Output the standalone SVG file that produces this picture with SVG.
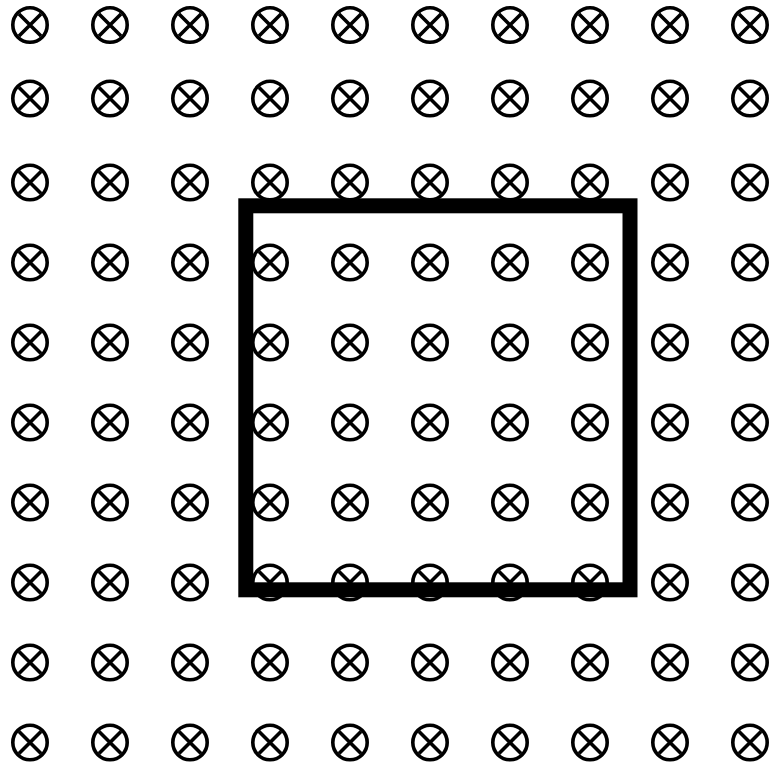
<svg xmlns="http://www.w3.org/2000/svg" xmlns:xlink="http://www.w3.org/1999/xlink" width="771" height="765" viewBox="0 0 771 765">
<defs>
<style>
.sym{fill:none;stroke:#000;stroke-width:3.6}
.box{fill:none;stroke:#000;stroke-width:15}
</style>
<g id="b" class="sym"><circle cx="0" cy="0" r="17.2"/><path d="M-11,-11L11,11M11,-11L-11,11"/></g>
<g id="row"><use xlink:href="#b" x="30"/><use xlink:href="#b" x="110"/><use xlink:href="#b" x="190"/><use xlink:href="#b" x="270"/><use xlink:href="#b" x="350"/><use xlink:href="#b" x="430"/><use xlink:href="#b" x="510"/><use xlink:href="#b" x="590"/><use xlink:href="#b" x="670"/><use xlink:href="#b" x="750"/></g>
</defs>
<rect width="771" height="765" fill="#fff"/>
<g id="field">
<use xlink:href="#row" y="25"/>
<use xlink:href="#row" y="98.5"/>
<use xlink:href="#row" y="182.5"/>
<use xlink:href="#row" y="262.5"/>
<use xlink:href="#row" y="342.5"/>
<use xlink:href="#row" y="422.5"/>
<use xlink:href="#row" y="502.5"/>
<use xlink:href="#row" y="582.5"/>
<use xlink:href="#row" y="662.5"/>
<use xlink:href="#row" y="742.5"/>
</g>
<rect id="loop" class="box" x="245.8" y="205.8" width="384.2" height="384"/>
</svg>
